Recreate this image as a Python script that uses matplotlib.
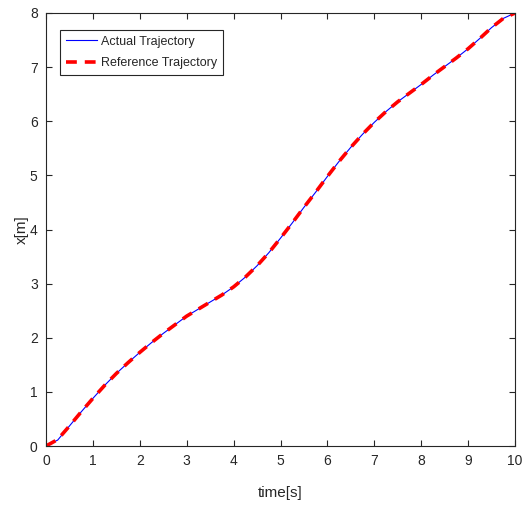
import numpy as np
import matplotlib
matplotlib.use('Agg')
import matplotlib.pyplot as plt

plt.rcParams['font.family'] = ['Liberation Sans', 'DejaVu Sans']

# time samples [s] and position [m]
t = [0, 0.25, 0.5, 0.75, 1.0, 1.25, 1.5, 1.75, 2.0, 2.25, 2.5, 2.75, 3.0, 3.25, 3.5, 3.75,
     4.0, 4.25, 4.5, 4.75, 5.0, 5.25, 5.5, 5.75, 6.0, 6.25, 6.5, 6.75, 7.0, 7.25, 7.5, 7.75,
     8.0, 8.25, 8.5, 8.75, 9.0, 9.25, 9.5, 9.75, 10.0]
x_ref = [0, 0.12, 0.37, 0.63, 0.88, 1.12, 1.34, 1.54, 1.73, 1.91, 2.08, 2.24, 2.40, 2.53, 2.66, 2.79,
         2.94, 3.12, 3.33, 3.57, 3.84, 4.12, 4.41, 4.69, 4.98, 5.26, 5.52, 5.76, 5.98, 6.18, 6.36, 6.52,
         6.68, 6.85, 7.01, 7.17, 7.34, 7.53, 7.73, 7.90, 8.0]
x_act = [0, 0.11, 0.37, 0.63, 0.88, 1.12, 1.34, 1.54, 1.73, 1.91, 2.08, 2.24, 2.40, 2.53, 2.66, 2.79,
         2.94, 3.12, 3.33, 3.57, 3.84, 4.12, 4.41, 4.69, 4.98, 5.26, 5.52, 5.76, 5.98, 6.18, 6.36, 6.52,
         6.68, 6.85, 7.01, 7.17, 7.34, 7.53, 7.73, 7.90, 8.0]

ax_col = '#262626'

fig = plt.figure(figsize=(5.23, 5.05), dpi=100)
ax = fig.add_axes([46/523, 1-446/505, 469/523, 433/505])

ax.plot(t, x_act, color='#0000ff', lw=0.8, label='Actual Trajectory')
ax.plot(t, x_ref, color='#ff0000', lw=2.6, ls=(0, (3, 2.2)), label='Reference Trajectory')

ax.set_xlim(0, 10)
ax.set_ylim(0, 8)
ax.set_xticks(range(0, 11))
ax.set_yticks(range(0, 9))
ax.tick_params(direction='in', top=True, right=True, length=4, width=0.8,
               color=ax_col, labelcolor=ax_col, labelsize=10, pad=6)
for s in ax.spines.values():
    s.set_color(ax_col)
    s.set_linewidth(0.8)

ax.set_xlabel('time[s]', fontsize=11, color=ax_col, labelpad=13)
ax.set_ylabel('x[m]', fontsize=11, color=ax_col, labelpad=1)

leg = ax.legend(loc='upper left', bbox_to_anchor=(0.03, 0.961), borderaxespad=0,
                fancybox=False, fontsize=9, handlelength=2.5, handletextpad=0.35,
                borderpad=0.45, labelspacing=0.75, framealpha=1)
leg.get_frame().set_edgecolor(ax_col)
leg.get_frame().set_linewidth(0.8)
for txt in leg.get_texts():
    txt.set_color(ax_col)

fig.savefig('out.png', dpi=100)
